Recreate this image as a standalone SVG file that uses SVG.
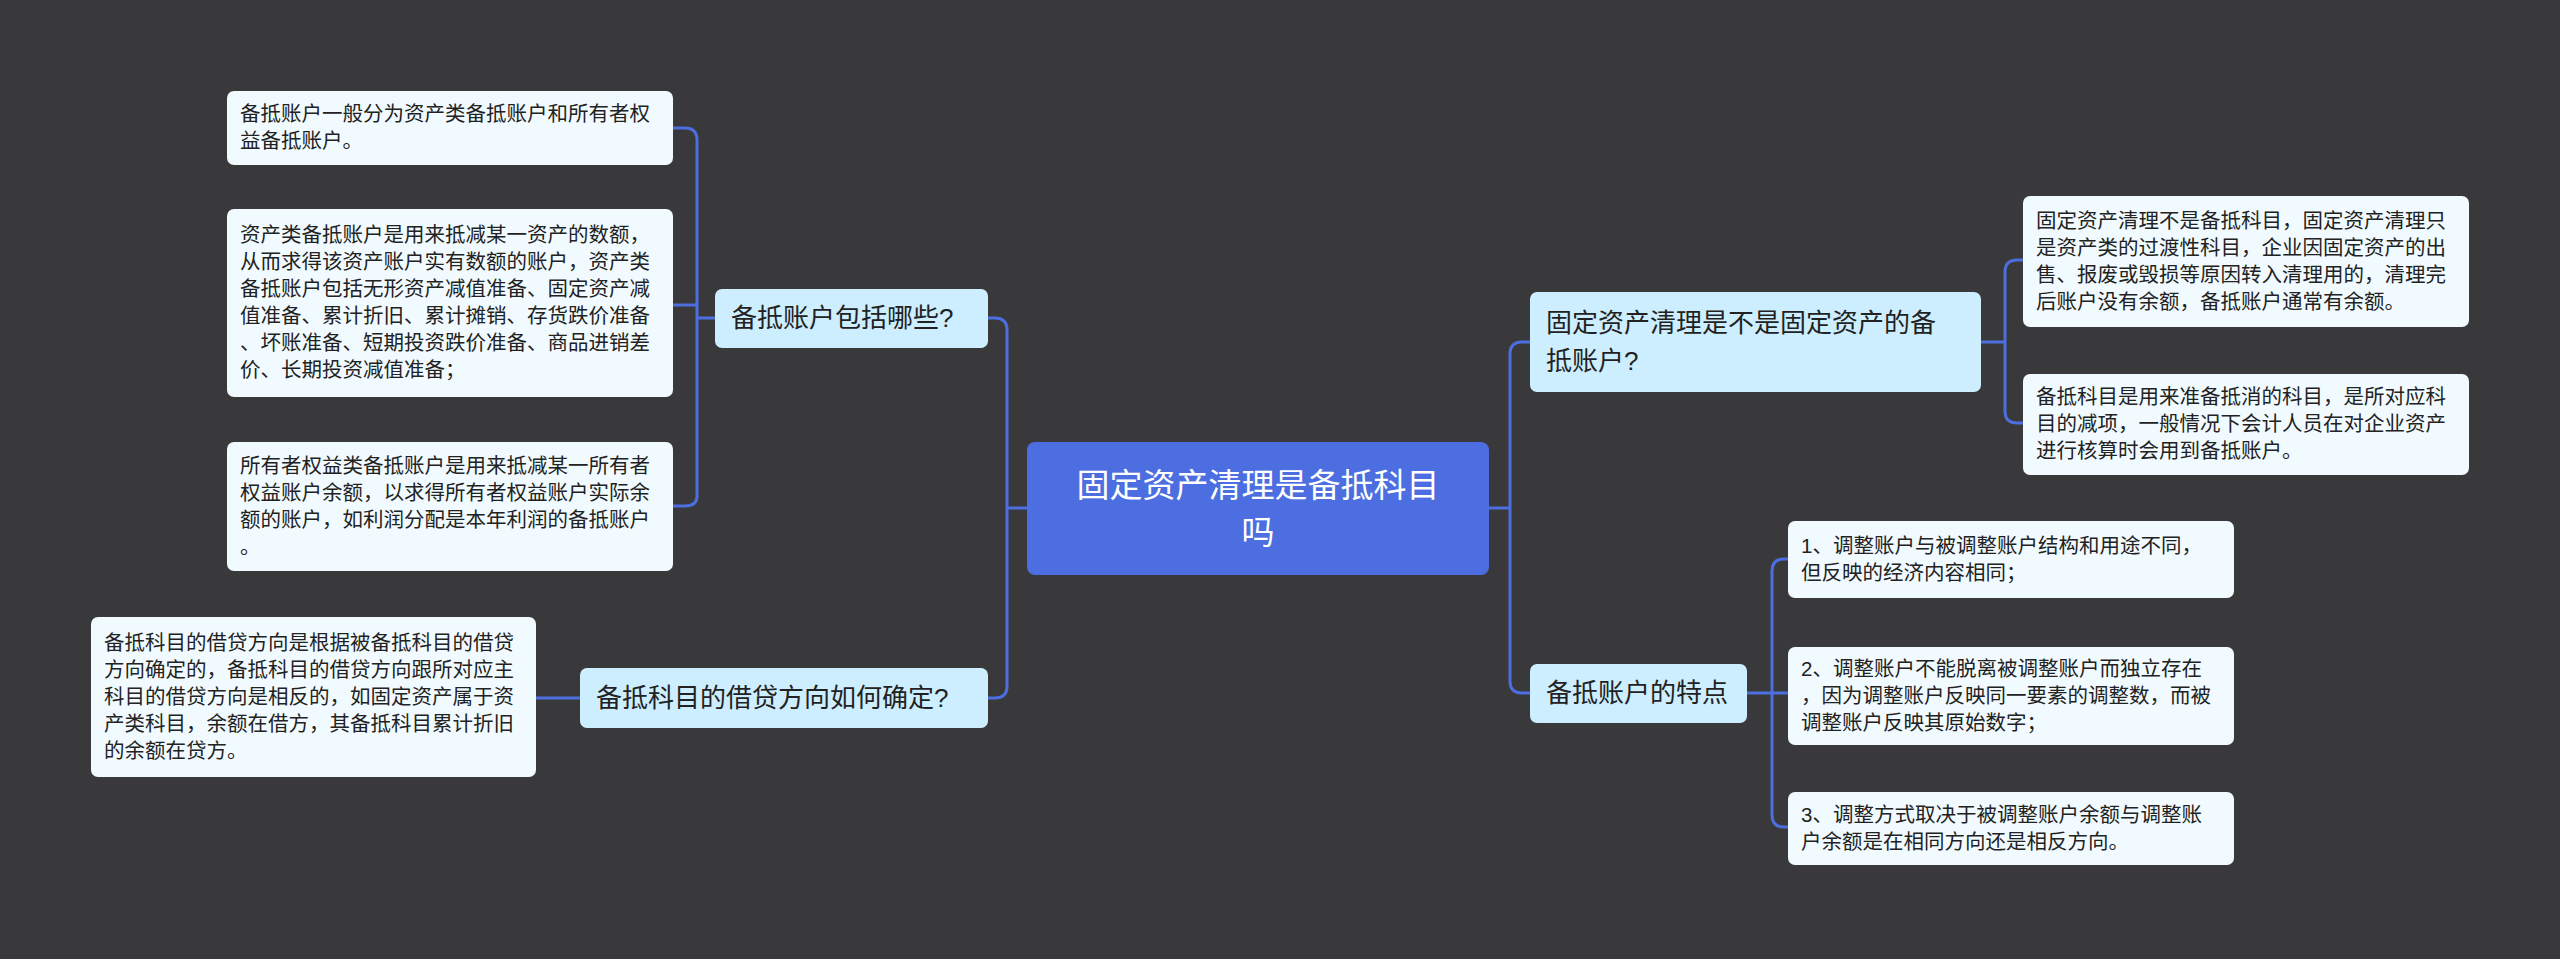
<svg xmlns="http://www.w3.org/2000/svg" width="2560" height="959" viewBox="0 0 2560 959">
<style>
.leaf{fill:#f1fbff;}
.br{fill:#cdeeff;}
.lt{font-family:"Liberation Sans","Noto Sans CJK SC",sans-serif;font-size:20.5px;fill:#222;}
.bt{font-family:"Liberation Sans","Noto Sans CJK SC",sans-serif;font-size:26px;fill:#222;}
.rt{font-family:"Liberation Sans","Noto Sans CJK SC",sans-serif;font-size:33px;fill:#fff;text-anchor:middle;}
.c{fill:none;stroke:#4d6ee0;stroke-width:3;}
</style>
<rect width="2560" height="959" fill="#39383a"/>
<g id="connectors">
<path class="c" d="M1027 508H1007M1007 508V330Q1007 318 995 318H988M1007 508V686Q1007 698 995 698H988"/>
<path class="c" d="M715 318H697M697 318V140Q697 128 685 128H673M697 318V305Q697 305 685 305H673M697 318V496Q697 506 685 506H673"/>
<path class="c" d="M580 698H536"/>
<path class="c" d="M1489 508H1510M1510 508V354Q1510 342 1522 342H1530M1510 508V681Q1510 693 1522 693H1530"/>
<path class="c" d="M1981 342H2005M2005 342V272Q2005 260 2017 260H2023M2005 342V411Q2005 423 2017 423H2023"/>
<path class="c" d="M1747 693H1772M1772 693V571Q1772 559 1784 559H1788M1772 693H1788M1772 693V815Q1772 827 1784 827H1788"/>
</g>
<g id="root"><rect x="1027" y="442" width="462" height="133" rx="8" fill="#4c6ee0"/><text class="rt" x="1258" y="497">固定资产清理是备抵科目</text><text class="rt" x="1258" y="544">吗</text></g>
<g id="lb1"><rect class="br" x="715" y="289" width="273" height="59" rx="7"/><text class="bt" x="731" y="327">备抵账户包括哪些?</text></g>
<g id="lb2"><rect class="br" x="580" y="668" width="408" height="60" rx="7"/><text class="bt" x="596" y="707">备抵科目的借贷方向如何确定?</text></g>
<g id="rb1"><rect class="br" x="1530" y="292" width="451" height="100" rx="7"/><text class="bt" x="1546" y="332">固定资产清理是不是固定资产的备</text><text class="bt" x="1546" y="370">抵账户?</text></g>
<g id="rb2"><rect class="br" x="1530" y="664" width="217" height="59" rx="7"/><text class="bt" x="1546" y="702">备抵账户的特点</text></g>
<g id="l1"><rect class="leaf" x="227" y="91" width="446" height="74" rx="7"/><text class="lt" x="240" y="121">备抵账户一般分为资产类备抵账户和所有者权</text><text class="lt" x="240" y="148">益备抵账户。</text></g>
<g id="l2"><rect class="leaf" x="227" y="209" width="446" height="188" rx="7"/><text class="lt" x="240" y="242">资产类备抵账户是用来抵减某一资产的数额，</text><text class="lt" x="240" y="269">从而求得该资产账户实有数额的账户，资产类</text><text class="lt" x="240" y="296">备抵账户包括无形资产减值准备、固定资产减</text><text class="lt" x="240" y="323">值准备、累计折旧、累计摊销、存货跌价准备</text><text class="lt" x="240" y="350">、坏账准备、短期投资跌价准备、商品进销差</text><text class="lt" x="240" y="377">价、长期投资减值准备；</text></g>
<g id="l3"><rect class="leaf" x="227" y="442" width="446" height="129" rx="7"/><text class="lt" x="240" y="473">所有者权益类备抵账户是用来抵减某一所有者</text><text class="lt" x="240" y="500">权益账户余额，以求得所有者权益账户实际余</text><text class="lt" x="240" y="527">额的账户，如利润分配是本年利润的备抵账户</text><text class="lt" x="240" y="554">。</text></g>
<g id="l4"><rect class="leaf" x="91" y="617" width="445" height="160" rx="7"/><text class="lt" x="104" y="650">备抵科目的借贷方向是根据被备抵科目的借贷</text><text class="lt" x="104" y="677">方向确定的，备抵科目的借贷方向跟所对应主</text><text class="lt" x="104" y="704">科目的借贷方向是相反的，如固定资产属于资</text><text class="lt" x="104" y="731">产类科目，余额在借方，其备抵科目累计折旧</text><text class="lt" x="104" y="758">的余额在贷方。</text></g>
<g id="r1"><rect class="leaf" x="2023" y="196" width="446" height="131" rx="7"/><text class="lt" x="2036" y="228">固定资产清理不是备抵科目，固定资产清理只</text><text class="lt" x="2036" y="255">是资产类的过渡性科目，企业因固定资产的出</text><text class="lt" x="2036" y="282">售、报废或毁损等原因转入清理用的，清理完</text><text class="lt" x="2036" y="309">后账户没有余额，备抵账户通常有余额。</text></g>
<g id="r2"><rect class="leaf" x="2023" y="374" width="446" height="101" rx="7"/><text class="lt" x="2036" y="404">备抵科目是用来准备抵消的科目，是所对应科</text><text class="lt" x="2036" y="431">目的减项，一般情况下会计人员在对企业资产</text><text class="lt" x="2036" y="458">进行核算时会用到备抵账户。</text></g>
<g id="r3"><rect class="leaf" x="1788" y="521" width="446" height="77" rx="7"/><text class="lt" x="1801" y="553">1、调整账户与被调整账户结构和用途不同，</text><text class="lt" x="1801" y="580">但反映的经济内容相同；</text></g>
<g id="r4"><rect class="leaf" x="1788" y="647" width="446" height="98" rx="7"/><text class="lt" x="1801" y="676">2、调整账户不能脱离被调整账户而独立存在</text><text class="lt" x="1801" y="703">，因为调整账户反映同一要素的调整数，而被</text><text class="lt" x="1801" y="730">调整账户反映其原始数字；</text></g>
<g id="r5"><rect class="leaf" x="1788" y="792" width="446" height="73" rx="7"/><text class="lt" x="1801" y="822">3、调整方式取决于被调整账户余额与调整账</text><text class="lt" x="1801" y="849">户余额是在相同方向还是相反方向。</text></g>
</svg>
